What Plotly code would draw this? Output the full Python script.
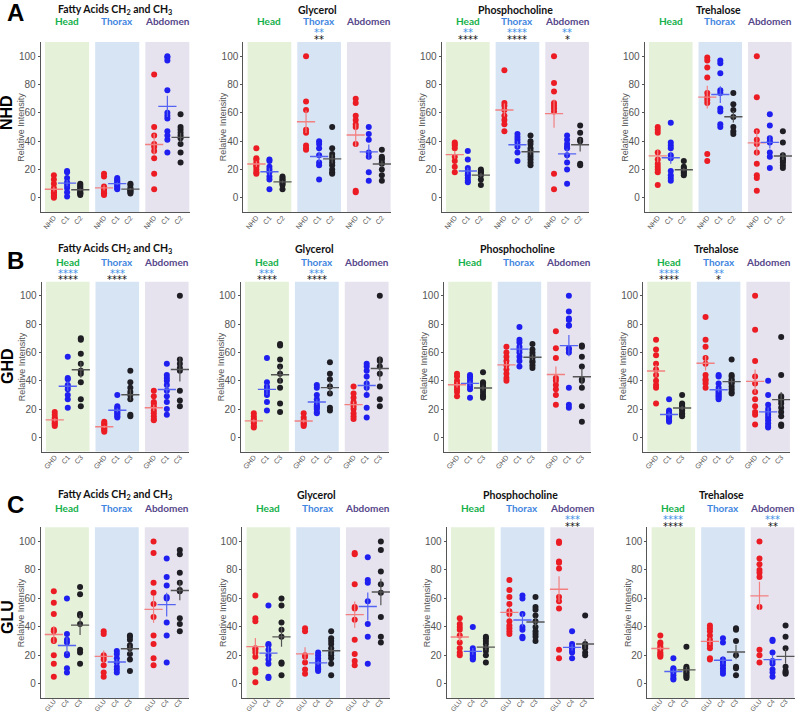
import numpy as np
import plotly.graph_objects as go

W, H = 798, 711

ROW_LETTERS = ["A", "B", "C"]
ROW_NAMES = ["NHD", "GHD", "GLU"]
ROW_GROUPS = [["NHD", "C1", "C2"], ["GHD", "C1", "C3"], ["GLU", "C4", "C3"]]
METABOLITES = ["Fatty Acids CH<sub>2</sub> and CH<sub>3</sub>", "Glycerol",
               "Phosphocholine", "Trehalose"]
REGIONS = ["Head", "Thorax", "Abdomen"]
Y_TITLE = "Relative Intensity"

# ---- data: 9 groups per panel: Head(ctrl,g2,g3), Thorax(...), Abdomen(...)
nhd_fatty = [
    [16, 13, 10, 7, 5, 4, 3, 2, 1, 0], [19, 18, 14, 11, 9, 7, 4, 1], [10, 9, 8, 7, 6, 5, 4, 3, 3, 2],
    [17, 15, 8, 6, 5, 4, 3, 3, 2], [14, 13, 12, 11, 10, 9, 8, 7, 6], [10, 9, 7, 6, 5, 5, 4, 3],
    [87, 50, 44, 38, 36, 33, 28, 17, 6], [100, 99, 97, 76, 60, 58, 56, 47, 44, 41, 32],
    [59, 50, 48, 46, 44, 42, 38, 32, 25]]
nhd_glycerol = [
    [35, 28, 27, 25, 23, 22, 20, 18, 17], [27, 26, 22, 20, 18, 15, 13, 6], [15, 14, 13, 12, 11, 10, 9, 6],
    [100, 68, 62, 48, 46, 37, 35, 34], [40, 38, 35, 30, 25, 23, 13], [50, 35, 31, 29, 27, 25, 23, 20, 18, 17],
    [70, 67, 58, 55, 52, 50, 38, 5, 4], [50, 45, 41, 32, 29, 18, 12], [34, 29, 28, 27, 25, 24, 20, 16, 12]]
nhd_phospho = [
    [39, 38, 37, 35, 29, 26, 22, 18], [33, 27, 21, 19, 17, 16, 14, 12, 11], [20, 19, 18, 17, 16, 13, 9],
    [90, 67, 65, 62, 58, 55, 52, 47], [45, 43, 41, 39, 36, 32, 26], [44, 40, 38, 35, 33, 31, 29, 27, 25, 23],
    [100, 81, 75, 67, 65, 63, 61, 17, 6], [44, 41, 38, 36, 35, 30, 25, 20, 10], [51, 46, 41, 40, 24, 23]]
nhd_trehalose = [
    [50, 48, 46, 32, 27, 24, 22, 20, 18, 9], [53, 39, 37, 35, 30, 28, 19, 16, 14, 12],
    [26, 22, 21, 20, 19, 18, 17, 16],
    [99, 97, 92, 85, 74, 71, 69, 67, 31, 26], [97, 95, 88, 76, 74, 63, 61, 52, 50], [74, 66, 62, 57, 50, 47, 45],
    [100, 71, 47, 41, 38, 32, 24, 16, 14, 5], [59, 51, 42, 40, 39, 32, 29, 21],
    [47, 39, 30, 28, 27, 26, 25, 23, 21]]

ghd_fatty = [
    [18, 16, 14, 13, 12, 11, 10, 9, 8], [57, 42, 41, 37, 36, 34, 30, 27, 21], [70, 69, 59, 52, 47, 45, 39, 27, 22],
    [11, 10, 9, 8, 7, 6, 5, 4], [30, 22, 21, 20, 19, 18, 17, 16, 15, 14], [47, 39, 35, 32, 30, 27, 16, 15],
    [33, 29, 25, 24, 22, 19, 17, 15, 13, 12], [52, 44, 42, 40, 37, 33, 29, 25, 20, 16],
    [100, 55, 52, 49, 47, 33, 26, 22]]
ghd_glycerol = [
    [17, 15, 13, 12, 11, 10, 8, 7], [56, 39, 36, 34, 32, 30, 25, 19], [66, 65, 55, 50, 45, 40, 35, 24, 18],
    [17, 14, 12, 11, 10, 9, 8], [37, 35, 30, 27, 25, 23, 22, 21, 20, 18, 17], [53, 45, 41, 36, 31, 21, 19],
    [36, 31, 28, 25, 24, 22, 20, 17, 15, 13], [52, 50, 47, 43, 38, 35, 30, 21, 14],
    [100, 55, 54, 50, 45, 36, 27, 22]]
ghd_phospho = [
    [45, 43, 40, 38, 36, 34, 32, 29], [44, 43, 42, 40, 38, 36, 34, 28], [46, 39, 38, 37, 36, 34, 32, 30, 29, 28],
    [64, 60, 57, 54, 51, 48, 45, 42, 40], [78, 69, 67, 64, 62, 60, 57, 54, 50],
    [66, 62, 60, 58, 56, 54, 53, 51, 49],
    [75, 63, 56, 42, 40, 37, 34, 30, 23], [100, 89, 84, 83, 79, 79, 63, 62, 60, 35, 23, 21],
    [65, 64, 57, 50, 41, 40, 35, 22, 11]]
ghd_trehalose = [
    [69, 62, 58, 52, 48, 44, 40, 37, 35, 24], [27, 19, 18, 17, 16, 15, 14, 13, 12, 11],
    [30, 24, 23, 22, 21, 20, 19, 17, 16, 15],
    [85, 69, 64, 56, 52, 44, 41, 40, 38, 35], [44, 43, 38, 35, 33, 32, 31, 30, 29, 28, 27],
    [55, 44, 43, 41, 40, 39, 38, 36, 34, 32, 31],
    [100, 76, 54, 43, 38, 32, 27, 22, 18, 16, 9], [40, 30, 23, 20, 18, 16, 14, 12, 10, 8, 7],
    [71, 44, 29, 28, 26, 24, 21, 18, 15, 9, 8]]

glu_fatty = [
    [65, 57, 49, 38, 37, 31, 30, 20, 14, 5], [60, 35, 31, 29, 21, 20, 11, 8], [68, 63, 49, 48, 42, 24, 22, 14],
    [37, 35, 20, 19, 17, 13, 8, 5], [23, 21, 18, 15, 12, 10, 8], [34, 33, 31, 27, 25, 21, 17, 9],
    [100, 92, 71, 64, 56, 47, 34, 28, 18, 13], [88, 75, 69, 61, 60, 43, 34, 15],
    [94, 91, 78, 71, 66, 65, 46, 42, 37]]
glu_glycerol = [
    [62, 46, 44, 25, 24, 22, 19, 10, 8, 1], [55, 28, 27, 24, 20, 17, 14, 5, 4], [60, 55, 43, 38, 33, 15, 14, 6],
    [39, 37, 20, 19, 15, 10, 7], [22, 20, 18, 16, 14, 12, 11, 10, 9], [37, 32, 30, 28, 25, 22, 20, 18, 14, 6],
    [92, 91, 70, 54, 53, 45, 31, 21, 16, 13], [89, 73, 71, 58, 42, 33, 14], [100, 94, 79, 70, 64, 47, 33, 29]]
glu_phospho = [
    [46, 42, 40, 38, 34, 29, 25, 22, 20], [40, 25, 23, 22, 21, 20, 19, 18, 17], [33, 32, 30, 28, 25, 23, 20, 15],
    [73, 66, 61, 56, 51, 49, 44, 41, 39, 37, 35], [62, 60, 49, 40, 38, 33, 32],
    [61, 54, 52, 48, 44, 40, 37, 35, 33, 30],
    [100, 99, 86, 85, 81, 61, 58, 53, 24, 18], [37, 28, 26, 25, 23, 22, 18], [48, 28, 27, 26, 25, 22, 20]]
glu_trehalose = [
    [34, 29, 28, 26, 25, 24, 22, 21, 20, 19], [18, 11, 10, 9, 8, 6, 4, 3], [26, 12, 11, 10, 9, 8, 7, 6, 5, 4],
    [41, 39, 37, 34, 31, 29, 27, 25, 18, 17], [32, 29, 17, 16, 15, 13, 11, 9, 7], [39, 38, 30, 20, 12, 11, 6],
    [100, 88, 84, 80, 78, 75, 54, 24, 20, 15], [31, 30, 22, 16, 14, 10, 8, 5], [41, 33, 25, 12, 9, 8, 7]]

# significance stars per region: (blue row, black row)
nhd_stars = [
    [("", ""), ("", ""), ("", "")],
    [("", ""), ("**", "**"), ("", "")],
    [("**", "****"), ("****", "****"), ("**", "*")],
    [("", ""), ("", ""), ("", "")]]
ghd_stars = [
    [("****", "****"), ("***", "****"), ("", "")],
    [("***", "****"), ("***", "****"), ("", "")],
    [("", ""), ("", ""), ("", "")],
    [("****", "****"), ("**", "*"), ("", "")]]
glu_stars = [
    [("", ""), ("", ""), ("", "")],
    [("", ""), ("", ""), ("", "")],
    [("", ""), ("", ""), ("***", "***")],
    [("****", "****"), ("", ""), ("***", "**")]]

PANELS = [[nhd_fatty, nhd_glycerol, nhd_phospho, nhd_trehalose],
          [ghd_fatty, ghd_glycerol, ghd_phospho, ghd_trehalose],
          [glu_fatty, glu_glycerol, glu_phospho, glu_trehalose]]
STARS = [nhd_stars, ghd_stars, glu_stars]

# ---- styling / geometry
XPOS = [1, 2, 3, 4.8, 5.8, 6.8, 8.6, 9.6, 10.6]
REGION_SPANS = [(0.33, 3.67), (4.13, 7.47), (7.93, 11.27)]
REGION_FILL = ["#e5f1d8", "#d7e4f4", "#e6e3ef"]
REGION_TXT = ["#14b04a", "#3f86e0", "#56478a"]
DOT_COL = ["#ec1c24", "#1f1ff0", "#1e1e24"]
MEAN_COL = ["#f38080", "#5563f2", "#555555"]
STAR_BLUE = "#3d8fe6"

COLS_PX = [
    [(40.7, 189.8), (243.3, 391.0), (441.7, 589.3), (644.7, 792.0)],
    [(41.7, 189.0), (240.7, 389.0), (444.0, 591.0), (643.0, 790.3)],
    [(40.7, 189.0), (242.3, 390.0), (446.7, 594.3), (647.3, 794.7)]]
ROWS_PX = [(42.0, 212.0), (281.7, 451.5), (527.3, 698.0)]
TITLE_Y = [10, 249, 495]
LABEL_Y = [21, 262, 508]
BLUESTAR_Y = [29, 270, 516]
BLACKSTAR_Y = [36, 277, 523]
LETTER_Y = [13, 261, 505]
ROWNAME_Y = [113, 366, 617]
TICK_FONT = [7, 7, 6.5]
TICK_STANDOFF = [-2, -2, -4]

fig = go.Figure()
layout = dict(
    width=W, height=H, margin=dict(l=0, r=0, t=0, b=0, autoexpand=False),
    paper_bgcolor="white", plot_bgcolor="white", showlegend=False,
    font=dict(family="Liberation Sans, Arial, sans-serif", color="#555"))
shapes = []
annotations = []


def py(p):
    return 1 - p / H


for r in range(3):
    for c in range(4):
        k = r * 4 + c + 1
        xa = "x" if k == 1 else f"x{k}"
        ya = "y" if k == 1 else f"y{k}"
        x0, x1 = COLS_PX[r][c]
        t, b = ROWS_PX[r]
        layout[f"xaxis{'' if k == 1 else k}"] = dict(
            domain=[x0 / W, x1 / W], range=[0, 11.3], anchor=ya, automargin=False,
            showline=True, linecolor="#555", linewidth=1, showgrid=False, zeroline=False,
            tickmode="array", tickvals=XPOS, ticktext=ROW_GROUPS[r] * 3,
            tickangle=-50, tickfont=dict(size=TICK_FONT[r], color="#555"), ticks="", ticklen=0,
            ticklabelstandoff=TICK_STANDOFF[r])
        layout[f"yaxis{'' if k == 1 else k}"] = dict(
            domain=[py(b), py(t)], range=[-10, 110], anchor=xa, automargin=False,
            showline=True, linecolor="#555", linewidth=1, showgrid=False, zeroline=False,
            tickmode="array", tickvals=[0, 20, 40, 60, 80, 100],
            tickfont=dict(size=10, color="#555"), ticks="outside", ticklen=2, tickcolor="#555")
        # y-axis title
        annotations.append(dict(
            text=Y_TITLE, xref="paper", x=(x0 - 20) / W, yref=f"{ya} domain", y=0.5,
            showarrow=False, xanchor="center", yanchor="middle", textangle=-90,
            font=dict(size=9, color="#555")))
        # shaded regions
        for i, (s0, s1) in enumerate(REGION_SPANS):
            shapes.append(dict(type="rect", xref=xa, yref=f"{ya} domain", x0=s0, x1=s1,
                               y0=0, y1=1, fillcolor=REGION_FILL[i], line=dict(width=0),
                               layer="below"))
        groups = PANELS[r][c]
        # dots
        for ci in range(3):
            xs, ys = [], []
            for reg in range(3):
                gi = reg * 3 + ci
                xs += [XPOS[gi]] * len(groups[gi])
                ys += groups[gi]
            fig.add_trace(go.Scatter(
                x=xs, y=ys, mode="markers", xaxis=xa, yaxis=ya,
                marker=dict(size=6, color=DOT_COL[ci], line=dict(width=0)),
                hoverinfo="skip"))
        # mean + sem
        for ci in range(3):
            mx, my, me = [], [], []
            for reg in range(3):
                gi = reg * 3 + ci
                v = np.array(groups[gi], dtype=float)
                mx.append(XPOS[gi])
                my.append(v.mean())
                me.append(v.std(ddof=1) / np.sqrt(len(v)))
            fig.add_trace(go.Scatter(
                x=mx, y=my, mode="markers", xaxis=xa, yaxis=ya,
                marker=dict(symbol="line-ew", size=13, color=MEAN_COL[ci],
                            line=dict(width=1.4, color=MEAN_COL[ci])),
                error_y=dict(type="data", array=me, visible=True, color=MEAN_COL[ci],
                             thickness=1.2, width=0),
                hoverinfo="skip"))
        # titles and labels
        annotations.append(dict(
            text=f"<b>{METABOLITES[c]}</b>", xref=f"{xa} domain", x=0.5,
            yref="paper", y=py(TITLE_Y[r]), showarrow=False, xanchor="center", yanchor="middle",
            font=dict(family="Lato, sans-serif", size=10.5, color="#111")))
        for i in range(3):
            ctr = (REGION_SPANS[i][0] + REGION_SPANS[i][1]) / 2
            annotations.append(dict(
                text=f"<b>{REGIONS[i]}</b>", xref=xa, x=ctr, yref="paper", y=py(LABEL_Y[r]),
                showarrow=False, xanchor="center", yanchor="middle",
                font=dict(family="Lato, sans-serif", size=10, color=REGION_TXT[i])))
            sb, sk = STARS[r][c][i]
            if sb:
                annotations.append(dict(
                    text=sb, xref=xa, x=ctr, yref="paper", y=py(BLUESTAR_Y[r] + 3),
                    showarrow=False, xanchor="center", yanchor="middle",
                    font=dict(family="DejaVu Sans", size=10, color=STAR_BLUE)))
            if sk:
                annotations.append(dict(
                    text=sk, xref=xa, x=ctr, yref="paper", y=py(BLACKSTAR_Y[r] + 3),
                    showarrow=False, xanchor="center", yanchor="middle",
                    font=dict(family="DejaVu Sans", size=10, color="#111")))

    annotations.append(dict(
        text=f"<b>{ROW_LETTERS[r]}</b>", xref="paper", x=15 / W, yref="paper", y=py(LETTER_Y[r]),
        showarrow=False, xanchor="center", yanchor="middle",
        font=dict(family="Liberation Sans, Arial", size=24, color="#000")))
    annotations.append(dict(
        text=f"<b>{ROW_NAMES[r]}</b>", xref="paper", x=7 / W, yref="paper", y=py(ROWNAME_Y[r]),
        showarrow=False, xanchor="center", yanchor="middle", textangle=-90,
        font=dict(family="Liberation Sans, Arial", size=16, color="#000")))

layout["shapes"] = shapes
layout["annotations"] = annotations
fig.update_layout(**layout)
fig.write_html("out.html", config={"displayModeBar": False},
               post_script="document.body.style.margin='0';")
